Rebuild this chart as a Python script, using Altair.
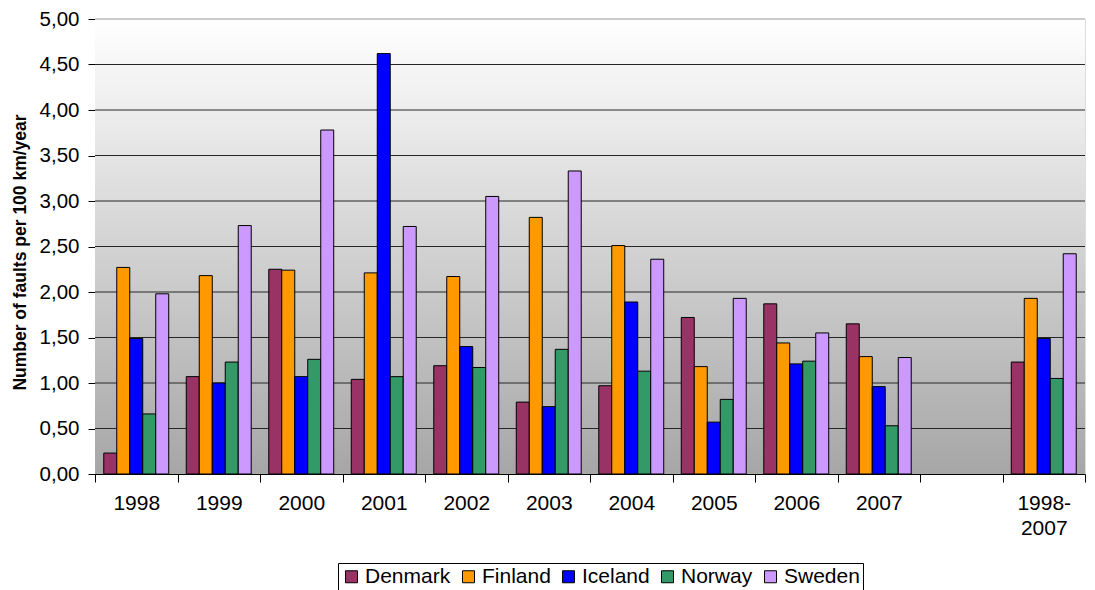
import altair as alt
import pandas as pd

categories = ["1998", "1999", "2000", "2001", "2002", "2003", "2004", "2005",
              "2006", "2007", " ", "1998-2007"]
years = ["1998", "1999", "2000", "2001", "2002", "2003", "2004", "2005",
         "2006", "2007", "1998-2007"]
countries = ["Denmark", "Finland", "Iceland", "Norway", "Sweden"]
denmark = [0.23, 1.07, 2.25, 1.04, 1.19, 0.79, 0.97, 1.72, 1.87, 1.65, 1.23]
finland = [2.27, 2.18, 2.24, 2.21, 2.17, 2.82, 2.51, 1.18, 1.44, 1.29, 1.93]
iceland = [1.49, 1.00, 1.07, 4.62, 1.40, 0.74, 1.89, 0.57, 1.21, 0.96, 1.49]
norway = [0.66, 1.23, 1.26, 1.07, 1.17, 1.37, 1.13, 0.82, 1.24, 0.53, 1.05]
sweden = [1.98, 2.73, 3.78, 2.72, 3.05, 3.33, 2.36, 1.93, 1.55, 1.28, 2.42]
colors = ["#993366", "#FF9900", "#0000FF", "#339966", "#CC99FF"]
y_ticks = [0.0, 0.5, 1.0, 1.5, 2.0, 2.5, 3.0, 3.5, 4.0, 4.5, 5.0]
grid_vals = [0.5, 1.0, 1.5, 2.0, 2.5, 3.0, 3.5, 4.0, 4.5]
top_grid = [5.0]

series = {"Denmark": denmark, "Finland": finland, "Iceland": iceland,
          "Norway": norway, "Sweden": sweden}
rows = []
for c in countries:
    for y, v in zip(years, series[c]):
        rows.append({"year": y, "country": c, "value": v})
df = pd.DataFrame(rows)

W, H = 990, 455
FONT = "Liberation Sans"

y_axis = alt.Axis(
    values=y_ticks, format=".2f", labelExpr="replace(datum.label, '.', ',')",
    grid=False, domainColor="black", tickColor="black", tickSize=7,
    labelPadding=9, labelFontSize=20.5, labelFont=FONT, labelColor="black",
    title="Number of faults per 100 km/year", titleFontSize=17.5, titleFont=FONT,
    titleFontWeight="bold", titleColor="black", titlePadding=10, titleY=233,
)
y_scale = alt.Scale(domain=[0, 5], nice=False, zero=True)

bg = alt.Chart(pd.DataFrame({"a": [0]})).mark_rect(
    color=alt.LinearGradient(
        gradient="linear",
        stops=[alt.GradientStop(color="#FFFFFF", offset=0),
               alt.GradientStop(color="#A6A6A6", offset=1)],
        x1=0, x2=0, y1=0, y2=1,
    )
).encode(x=alt.value(0), x2=alt.value(W), y=alt.value(0), y2=alt.value(H))

grid = alt.Chart(pd.DataFrame({"value": grid_vals})).mark_rule(
    color="#262626", strokeWidth=1
).encode(
    y=alt.Y("value:Q", scale=y_scale, axis=y_axis),
    x=alt.value(0), x2=alt.value(W),
)

grid_top = alt.Chart(pd.DataFrame({"value": top_grid})).mark_rule(
    color="#9A9A9A", strokeWidth=1
).encode(
    y=alt.Y("value:Q", scale=y_scale, axis=y_axis),
    x=alt.value(0), x2=alt.value(W),
)

bars = alt.Chart(df).mark_bar(stroke="black", strokeWidth=1).encode(
    x=alt.X("year:N", sort=categories,
            scale=alt.Scale(domain=categories, paddingInner=0, paddingOuter=0),
            axis=alt.Axis(title=None, labelAngle=0, tickBand="extent", tickSize=8,
                          labelPadding=10, labelFontSize=21, labelFont=FONT,
                          labelColor="black", labelLineHeight=25,
                          labelOverlap=False, labelLimit=200,
                          domainColor="black", tickColor="black",
                          labelExpr="datum.value == '1998-2007' ? ['1998-', '2007'] : datum.value")),
    xOffset=alt.XOffset("country:N", sort=countries,
                        scale=alt.Scale(domain=countries, paddingInner=0, paddingOuter=0.675)),
    y=alt.Y("value:Q", scale=y_scale, axis=y_axis),
    color=alt.Color("country:N", sort=countries,
                    scale=alt.Scale(domain=countries, range=colors),
                    legend=alt.Legend(title=None, orient="none", legendX=243, legendY=544,
                                      direction="horizontal", columns=5,
                                      symbolType="square", symbolSize=144,
                                      symbolStrokeColor="black", symbolStrokeWidth=1,
                                      symbolOpacity=1,
                                      labelFontSize=21, labelFont=FONT, labelColor="black",
                                      labelOffset=3, columnPadding=7, padding=3,
                                      strokeColor="black", fillColor="white")),
)

chart = alt.layer(bg, grid, grid_top, bars).properties(
    width=W, height=H,
    autosize=alt.AutoSizeParams(type="none"),
    padding={"left": 87, "top": 11, "right": 2, "bottom": 116},
).configure_view(stroke=None).configure(background="white")

chart.save("out.html", embed_options={"renderer": "svg", "actions": False})
